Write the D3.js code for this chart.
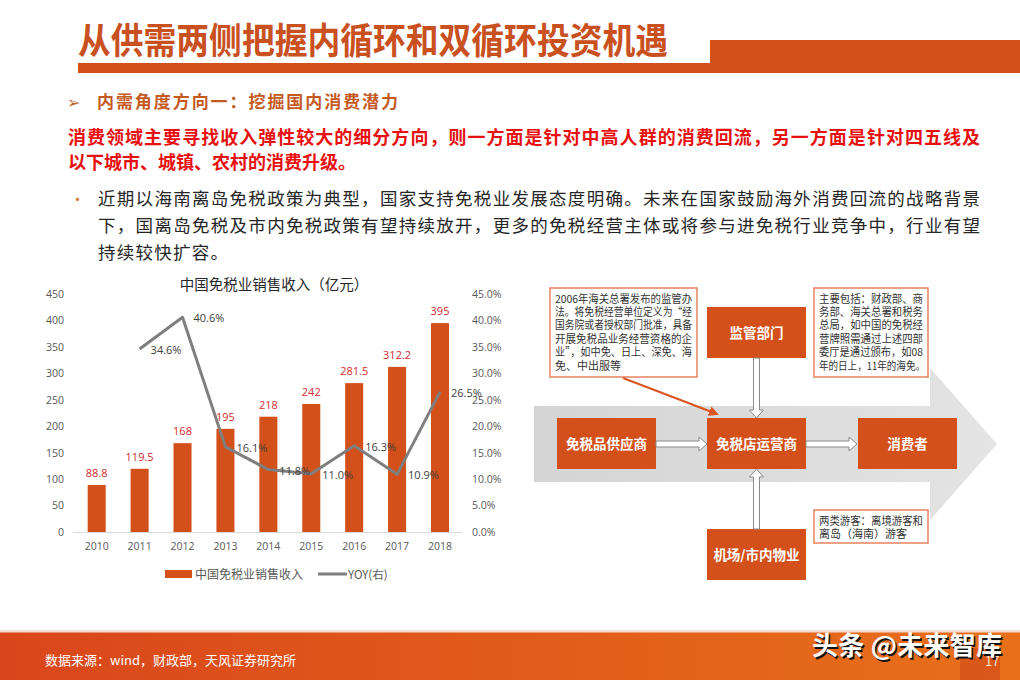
<!DOCTYPE html>
<html>
<head>
<meta charset="utf-8">
<script src="https://cdn.jsdelivr.net/npm/d3@7"></script>
<style>
  html, body { margin: 0; padding: 0; background: #fff; }
  svg { display: block; font-family: "Noto Sans CJK SC", "Noto Sans", sans-serif; }
</style>
</head>
<body>
<div id="slide"></div>
<script>
// chart data
var years = ["2010", "2011", "2012", "2013", "2014", "2015", "2016", "2017", "2018"];
var revenue = [88.8, 119.5, 168, 195, 218, 242, 281.5, 312.2, 395];
var yoy = [null, 34.6, 40.6, 16.1, 11.8, 11.0, 16.3, 10.9, 26.5];
var leftTicks = [0, 50, 100, 150, 200, 250, 300, 350, 400, 450];
var rightTicks = [0, 5, 10, 15, 20, 25, 30, 35, 40, 45];

var orange = "#d4501b";
var W = 1020, H = 680;

var svg = d3.select("#slide").append("svg")
    .attr("width", W)
    .attr("height", H);

var defs = svg.append("defs");
var grad = defs.append("linearGradient").attr("id", "foot").attr("x1", 0).attr("x2", 1);
grad.append("stop").attr("offset", 0).attr("stop-color", "#d9461b");
grad.append("stop").attr("offset", 1).attr("stop-color", "#e8701a");
var arrowGrad = defs.append("linearGradient").attr("id", "bigArrow").attr("x1", 0).attr("x2", 1);
arrowGrad.append("stop").attr("offset", 0).attr("stop-color", "#d4d4d4");
arrowGrad.append("stop").attr("offset", 1).attr("stop-color", "#e4e4e4");
defs.append("marker")
    .attr("id", "tip")
    .attr("viewBox", "0 0 10 10")
    .attr("refX", 8).attr("refY", 5)
    .attr("markerWidth", 5).attr("markerHeight", 5)
    .attr("orient", "auto")
    .append("path")
    .attr("d", "M0,0L10,5L0,10z")
    .attr("fill", "#d9541e");

// ---- header ----
svg.append("text")
    .attr("x", 78).attr("y", 54)
    .attr("font-size", 36)
    .attr("font-weight", 700)
    .attr("fill", "#c9501f")
    .attr("textLength", 590)
    .attr("lengthAdjust", "spacingAndGlyphs")
    .text("从供需两侧把握内循环和双循环投资机遇");
svg.append("rect").attr("x", 78).attr("y", 63).attr("width", 632).attr("height", 10).attr("fill", orange);
svg.append("rect").attr("x", 710).attr("y", 40).attr("width", 310).attr("height", 33).attr("fill", orange);

svg.append("text")
    .attr("x", 67).attr("y", 108)
    .attr("font-size", 16)
    .attr("fill", "#b8652e")
    .text("➢");
svg.append("text")
    .attr("x", 97).attr("y", 108)
    .attr("font-size", 17)
    .attr("font-weight", 700)
    .attr("fill", "#c55a1f")
    .attr("textLength", 301)
    .text("内需角度方向一：挖掘国内消费潜力");

svg.append("text")
    .attr("x", 68).attr("y", 144)
    .attr("font-size", 18)
    .attr("font-weight", 700)
    .attr("fill", "#e8100f")
    .attr("textLength", 912)
    .text("消费领域主要寻找收入弹性较大的细分方向，则一方面是针对中高人群的消费回流，另一方面是针对四五线及");
svg.append("text")
    .attr("x", 68).attr("y", 169)
    .attr("font-size", 18)
    .attr("font-weight", 700)
    .attr("fill", "#e8100f")
    .text("以下城市、城镇、农村的消费升级。");

svg.append("text")
    .attr("x", 70).attr("y", 205)
    .attr("font-size", 15)
    .attr("fill", "#d27b3c")
    .text("•");
var bodyLines = [
    {t: "近期以海南离岛免税政策为典型，国家支持免税业发展态度明确。未来在国家鼓励海外消费回流的战略背景", len: 882},
    {t: "下，国离岛免税及市内免税政策有望持续放开，更多的免税经营主体或将参与进免税行业竞争中，行业有望", len: 882},
    {t: "持续较快扩容。", len: 130}
];
bodyLines.forEach(function(l, i) {
    svg.append("text")
        .attr("x", 98).attr("y", 205 + i * 27)
        .attr("font-size", 17.5)
        .attr("fill", "#262626")
        .attr("textLength", l.len)
        .text(l.t);
});

// ---- bar + line chart ----
var x = d3.scaleBand()
    .domain(years)
    .range([75.25, 461.45])
    .paddingInner(0.58)
    .paddingOuter(0.29);
var yL = d3.scaleLinear().domain([0, 450]).range([532, 294]);
var yR = d3.scaleLinear().domain([0, 45]).range([532, 294]);

var chart = svg.append("g");

chart.append("text")
    .attr("x", 274).attr("y", 290)
    .attr("text-anchor", "middle")
    .attr("font-size", 14.5)
    .attr("fill", "#262626")
    .text("中国免税业销售收入（亿元）");

var axL = chart.append("g")
    .attr("transform", "translate(73,0)")
    .call(d3.axisLeft(yL).tickValues(leftTicks).tickSize(0).tickPadding(9));
var axR = chart.append("g")
    .attr("transform", "translate(462,0)")
    .call(d3.axisRight(yR).tickValues(rightTicks).tickSize(0).tickPadding(10)
        .tickFormat(function(d) { return d.toFixed(1) + "%"; }));
var axB = chart.append("g")
    .attr("transform", "translate(0,532)")
    .call(d3.axisBottom(x).tickSize(0).tickPadding(11));
[axL, axR, axB].forEach(function(a) {
    a.select(".domain").remove();
    a.selectAll("text")
        .attr("font-family", "'Open Sans', 'Noto Sans', sans-serif")
        .attr("font-size", 10.5)
        .attr("fill", "#595959");
});

chart.append("line")
    .attr("x1", 73).attr("x2", 462)
    .attr("y1", 532.5).attr("y2", 532.5)
    .attr("stroke", "#d9d9d9");

chart.selectAll(".bar")
    .data(revenue)
    .enter()
    .append("rect")
    .attr("class", "bar")
    .attr("x", function(d, i) { return x(years[i]); })
    .attr("width", x.bandwidth())
    .attr("y", function(d) { return yL(d); })
    .attr("height", function(d) { return 532 - yL(d); })
    .attr("fill", orange);

chart.selectAll(".barLabel")
    .data(revenue)
    .enter()
    .append("text")
    .attr("class", "barLabel")
    .attr("x", function(d, i) { return x(years[i]) + x.bandwidth() / 2; })
    .attr("y", function(d) { return yL(d) - 8; })
    .attr("text-anchor", "middle")
    .attr("font-family", "'Open Sans', 'Noto Sans', sans-serif")
    .attr("font-size", 11)
    .attr("fill", "#d42a2d")
    .text(function(d) { return d; });

var yoyPts = yoy.map(function(v, i) { return {year: years[i], v: v}; })
    .filter(function(p) { return p.v !== null; });
var line = d3.line()
    .x(function(p) { return x(p.year) + x.bandwidth() / 2; })
    .y(function(p) { return yR(p.v); });

chart.append("path")
    .datum(yoyPts)
    .attr("d", line)
    .attr("fill", "none")
    .attr("stroke", "#7f7f7f")
    .attr("stroke-width", 3)
    .attr("stroke-linejoin", "round");

chart.selectAll(".yoyLabel")
    .data(yoyPts)
    .enter()
    .append("text")
    .attr("class", "yoyLabel")
    .attr("x", function(p) { return x(p.year) + x.bandwidth() / 2 + 11; })
    .attr("y", function(p) { return yR(p.v) + 5; })
    .attr("font-family", "'Open Sans', 'Noto Sans', sans-serif")
    .attr("font-size", 11)
    .attr("fill", "#404040")
    .text(function(p) { return p.v.toFixed(1) + "%"; });

// legend
var legend = chart.append("g").attr("transform", "translate(0,574)");
legend.append("rect").attr("x", 165).attr("y", -4).attr("width", 27).attr("height", 8).attr("fill", orange);
legend.append("text").attr("x", 195).attr("y", 4.5)
    .attr("font-size", 12).attr("fill", "#595959")
    .text("中国免税业销售收入");
legend.append("line").attr("x1", 318).attr("x2", 347).attr("y1", 0).attr("y2", 0)
    .attr("stroke", "#7f7f7f").attr("stroke-width", 3);
legend.append("text").attr("x", 348).attr("y", 4.5)
    .attr("font-size", 11.5).attr("fill", "#595959")
    .text("YOY(右)");

// ---- value chain diagram ----
var dg = svg.append("g");
dg.append("path")
    .attr("d", "M534,406L930,406L930,368L997,444L930,520L930,482L534,482Z")
    .attr("fill", "url(#bigArrow)");

var boxes = [
    {label: "免税品供应商", x: 557, y: 418},
    {label: "免税店运营商", x: 707, y: 418},
    {label: "消费者", x: 858, y: 418},
    {label: "监管部门", x: 707, y: 307},
    {label: "机场/市内物业", x: 707, y: 529}
];
boxes.forEach(function(b) {
    dg.append("rect").attr("x", b.x).attr("y", b.y).attr("width", 99).attr("height", 51).attr("fill", orange);
    dg.append("text")
        .attr("x", b.x + 49.5).attr("y", b.y + 30.5)
        .attr("text-anchor", "middle")
        .attr("font-size", 13.5)
        .attr("font-weight", 700)
        .attr("fill", "#fff")
        .text(b.label);
});

function hollowArrow(x1, y1, x2, y2) {
    var len = Math.hypot(x2 - x1, y2 - y1), ang = Math.atan2(y2 - y1, x2 - x1) * 180 / Math.PI;
    var h = len - 8;
    dg.append("path")
        .attr("transform", "translate(" + x1 + "," + y1 + ") rotate(" + ang + ")")
        .attr("d", "M0,-3L" + h + ",-3L" + h + ",-7L" + len + ",0L" + h + ",7L" + h + ",3L0,3Z")
        .attr("fill", "#fff")
        .attr("stroke", "#8a8a8a")
        .attr("stroke-width", 1);
}
hollowArrow(656, 444, 707, 444);
hollowArrow(806, 444, 857, 444);
hollowArrow(756.5, 358, 756.5, 418);
hollowArrow(756.5, 529, 756.5, 469);

var notes = [
    {x: 550, y: 288, w: 147, h: 89, tx: 555, lines: [
        ["2006年海关总署发布的监管办", 137], ["法。将免税经营单位定义为“经", 137], ["国务院或者授权部门批准，具备", 137],
        ["开展免税品业务经营资格的企", 137], ["业”，如中免、日上、深免、海", 137], ["免、中出服等", 0]]},
    {x: 814, y: 288, w: 114, h: 89, tx: 819, lines: [
        ["主要包括：财政部、商", 104], ["务部、海关总署和税务", 104], ["总局，如中国的免税经", 104],
        ["营牌照需通过上述四部", 104], ["委厅是通过颁布，如08", 104], ["年的日上，11年的海免。", 106]]},
    {x: 814, y: 510, w: 114, h: 33, tx: 819, lines: [
        ["两类游客：离境游客和", 104], ["离岛（海南）游客", 0]]}
];
notes.forEach(function(n) {
    dg.append("rect").attr("x", n.x).attr("y", n.y).attr("width", n.w).attr("height", n.h)
        .attr("fill", "#fff").attr("stroke", "#e8825c").attr("stroke-width", 1.5);
    n.lines.forEach(function(l, i) {
        var t = dg.append("text")
            .attr("x", n.tx).attr("y", n.y + 14.5 + i * 13.4)
            .attr("font-size", 11)
            .attr("fill", "#333")
            .text(l[0]);
        if (l[1]) t.attr("textLength", l[1]).attr("lengthAdjust", "spacingAndGlyphs");
    });
});
dg.append("line")
    .attr("x1", 623).attr("y1", 378).attr("x2", 717).attr("y2", 414)
    .attr("stroke", "#d9541e").attr("stroke-width", 2)
    .attr("marker-end", "url(#tip)");

// ---- footer ----
svg.append("rect").attr("x", 0).attr("y", 632).attr("width", W).attr("height", 48).attr("fill", "url(#foot)");
svg.append("rect").attr("x", 0).attr("y", 630).attr("width", W).attr("height", 3).attr("fill", "#f3c8b0").attr("opacity", 0.6);
svg.append("rect").attr("x", 960).attr("y", 648).attr("width", 40).attr("height", 32).attr("fill", "#cf4a1a").attr("opacity", 0.6);
svg.append("text")
    .attr("x", 45).attr("y", 665)
    .attr("font-size", 13)
    .attr("fill", "#fff")
    .text("数据来源：wind，财政部，天风证券研究所");
svg.append("text")
    .attr("x", 985).attr("y", 666)
    .attr("font-size", 13)
    .attr("fill", "#fbe0cf")
    .text("17");
svg.append("text")
    .attr("x", 812).attr("y", 655)
    .attr("font-size", 26)
    .attr("font-weight", 700)
    .attr("fill", "#111")
    .attr("transform", "translate(1.5,1.5)")
    .attr("textLength", 190)
    .text("头条 @未来智库");
svg.append("text")
    .attr("x", 812).attr("y", 655)
    .attr("font-size", 26)
    .attr("font-weight", 700)
    .attr("fill", "#fff")
    .attr("textLength", 190)
    .text("头条 @未来智库");
</script>
</body>
</html>
